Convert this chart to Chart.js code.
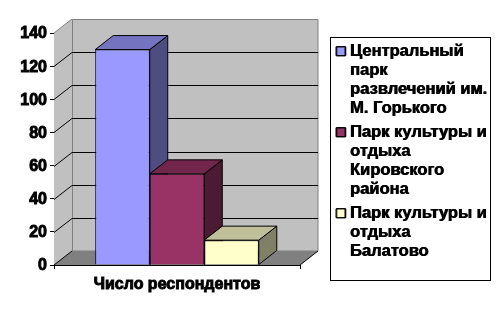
<!DOCTYPE html>
<html><head><meta charset="utf-8">
<style>html,body{margin:0;padding:0;background:#fff}canvas{display:block}</style>
<script src="https://cdn.jsdelivr.net/npm/chart.js@4"></script>
</head><body><canvas id="c" width="500" height="317"></canvas>
<script>
const categories = ['Число респондентов'];
const seriesNames = [
  ['Центральный', 'парк', 'развлечений им.', 'М. Горького'],
  ['Парк культуры и', 'отдыха', 'Кировского', 'района'],
  ['Парк культуры и', 'отдыха', 'Балатово']
];
const seriesValues = [130, 55, 15];
const tickValues = [0, 20, 40, 60, 80, 100, 120, 140];
const frontColors = ['#9999FF', '#993366', '#FFFFCC'];
const topColors = ['#7373BF', '#73264C', '#BFBF99'];
const sideColors = ['#4D4D80', '#4D1A33', '#808066'];

const DX = 18, DY = -14;
const FONT = {family: '"Liberation Sans", Arial, sans-serif', size: 16, weight: 'bold'};

function poly(ctx, pts, fill, stroke, lw) {
  ctx.beginPath();
  pts.forEach((p, i) => i ? ctx.lineTo(p[0], p[1]) : ctx.moveTo(p[0], p[1]));
  ctx.closePath();
  if (fill) { ctx.fillStyle = fill; ctx.fill(); }
  if (stroke) { ctx.strokeStyle = stroke; ctx.lineWidth = lw || 1; ctx.stroke(); }
}
function seg(ctx, x1, y1, x2, y2, c) {
  ctx.beginPath(); ctx.moveTo(x1, y1); ctx.lineTo(x2, y2);
  ctx.strokeStyle = c; ctx.lineWidth = 1; ctx.stroke();
}

const box3d = {
  id: 'box3d',
  beforeLayout(chart) {
    const l = chart.legend;
    if (l && !l.__wrapped) {
      const f = l.fit, d = l.draw;
      l.fit = function () { f.call(this); this.width = 200; };
      l.draw = function () {
        const ctx = this.ctx;
        ctx.save();
        ctx.shadowColor = '#000'; ctx.shadowBlur = 0; ctx.shadowOffsetX = 0.8; ctx.shadowOffsetY = 0;
        d.call(this);
        ctx.restore();
      };
      l.__wrapped = true;
    }
  },
  afterLayout(chart) {
    chart.legend.left = 334.5;
    chart.legend.right = 491;
    chart.legend.top = 38;
  },
  beforeDatasetsDraw(chart) {
    const ctx = chart.ctx, y = chart.scales.y, a = chart.chartArea;
    const L = a.left, R = a.right, T = y.getPixelForValue(140), B = y.getPixelForValue(0);
    ctx.save();
    poly(ctx, [[L, T], [L + DX, T + DY], [L + DX, B + DY], [L, B]], '#C0C0C0');
    poly(ctx, [[L + DX + .5, T + DY + .5], [R + DX, T + DY + .5], [R + DX, B + DY], [L + DX + .5, B + DY]], '#C0C0C0', '#808080');
    poly(ctx, [[L, B], [L + DX, B + DY], [R + DX, B + DY], [R, B]], '#808080');
    seg(ctx, L, T, L + DX, T + DY, '#808080');
    seg(ctx, R, B, R + DX, B + DY, '#000');
    tickValues.forEach(v => {
      if (v === 0 || v === 140) return;
      const p = Math.round(y.getPixelForValue(v)) + .5;
      seg(ctx, L, p, L + DX, p + DY, '#000');
      seg(ctx, L + DX, p + DY, R + DX, p + DY, '#000');
    });
    seg(ctx, L, B, L + DX, B + DY, '#000');
    chart.data.datasets.forEach((ds, i) => {
      const b = chart.getDatasetMeta(i).data[0];
      const x0 = b.x - b.width / 2, x1 = b.x + b.width / 2, t = b.y, base = b.base;
      poly(ctx, [[x1, t], [x1 + DX, t + DY], [x1 + DX, base + DY], [x1, base]], sideColors[i], '#000');
      poly(ctx, [[x0, t], [x0 + DX, t + DY], [x1 + DX, t + DY], [x1, t]], topColors[i], '#000');
    });
    ctx.restore();
  },
  afterDraw(chart) {
    const ctx = chart.ctx;
    ctx.save();
    ctx.strokeStyle = '#000'; ctx.lineWidth = 1;
    ctx.strokeRect(330.5, 37.5, 160, 243);
    ctx.restore();
  }
};

new Chart(document.getElementById('c'), {
  type: 'bar',
  plugins: [box3d],
  data: {
    labels: categories,
    datasets: seriesNames.map((n, i) => ({
      label: n,
      data: [seriesValues[i]],
      backgroundColor: frontColors[i],
      borderColor: '#000',
      borderWidth: 1,
      categoryPercentage: 0.665,
      barPercentage: 1
    }))
  },
  options: {
    responsive: false,
    animation: false,
    layout: {padding: {top: 33, left: 0, right: 0, bottom: 0}},
    plugins: {
      tooltip: {enabled: false},
      legend: {
        position: 'right', align: 'start',
        labels: {
          color: '#000', boxWidth: 2, boxHeight: 9, padding: 5,
          usePointStyle: true, pointStyle: 'rect',
          font: {family: FONT.family, size: 16.5, weight: 'bold', lineHeight: 19 / 16.5}
        }
      }
    },
    scales: {
      x: {
        grid: {display: true, drawOnChartArea: false, tickLength: 4, color: '#000', offset: true},
        border: {color: '#000', width: 1},
        ticks: {color: '#000', font: FONT, padding: 6, textStrokeColor: '#000', textStrokeWidth: 0.9, maxRotation: 0},
        afterFit(s) { s.height = 52; }
      },
      y: {
        min: 0, max: 140,
        afterBuildTicks(s) { s.ticks = tickValues.map(v => ({value: v})); },
        grid: {display: true, drawOnChartArea: false, tickLength: 4, color: '#000'},
        border: {color: '#000', width: 1},
        ticks: {color: '#000', font: FONT, padding: 3, labelOffset: 1, textStrokeColor: '#000', textStrokeWidth: 0.9},
        afterFit(s) { s.width = 54; }
      }
    }
  }
});
</script></body></html>
